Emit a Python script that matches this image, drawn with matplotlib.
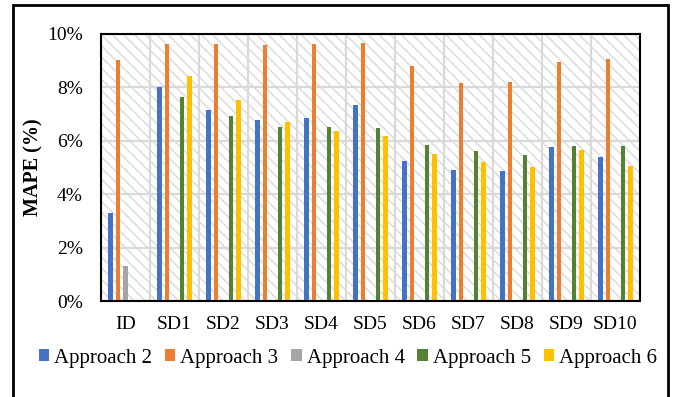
import matplotlib
matplotlib.use("Agg")
import matplotlib.pyplot as plt
import numpy as np
from matplotlib.patches import Rectangle
from matplotlib.ticker import FuncFormatter, MultipleLocator

categories = ["ID", "SD1", "SD2", "SD3", "SD4", "SD5", "SD6", "SD7", "SD8", "SD9", "SD10"]
approach2 = [3.28, 8.00, 7.15, 6.79, 6.87, 7.34, 5.25, 4.92, 4.87, 5.77, 5.38]
approach3 = [9.03, 9.64, 9.61, 9.60, 9.64, 9.65, 8.80, 8.15, 8.19, 8.95, 9.06]
approach4 = [1.32, 0, 0, 0, 0, 0, 0, 0, 0, 0, 0]
approach5 = [0, 7.65, 6.93, 6.53, 6.50, 6.48, 5.85, 5.62, 5.46, 5.80, 5.80]
approach6 = [0, 8.44, 7.52, 6.69, 6.36, 6.17, 5.49, 5.22, 5.02, 5.66, 5.07]
series_names = ["Approach 2", "Approach 3", "Approach 4", "Approach 5", "Approach 6"]
colors = ["#4472C4", "#ED7D31", "#A5A5A5", "#548235", "#FFC000"]

plt.rcParams['font.family'] = ['Liberation Serif', 'DejaVu Serif']
plt.rcParams['hatch.linewidth'] = 1.0
plt.rcParams['hatch.color'] = '#d9d9d9'

fig = plt.figure(figsize=(6.74, 3.97), dpi=100)
# outer frame
fig.patches.append(Rectangle((13/674, -0.05), (668-13)/674, 1.05 - 5/397,
                             transform=fig.transFigure, fill=False,
                             edgecolor='black', linewidth=2.0))

ax = fig.add_axes([101/674, (397-301)/397, (640-101)/674, (301-34)/397])
n = len(categories)
x = np.arange(n)
ax.set_xlim(-0.5, n - 0.5)
ax.set_ylim(0, 10)

# hatched background
ax.add_patch(Rectangle((0, 0), 1, 1, transform=ax.transAxes, facecolor='white',
                       edgecolor='#d9d9d9', hatch='\\\\\\', linewidth=0, zorder=0))

series = [approach2, approach3, approach4, approach5, approach6]
w = 0.10
step = 0.153
for i, (vals, name, c) in enumerate(zip(series, series_names, colors)):
    ax.bar(x + (i - 2) * step, vals, width=w, color=c, label=name, zorder=3)

ax.yaxis.set_major_locator(MultipleLocator(2))
ax.yaxis.set_major_formatter(FuncFormatter(lambda v, p: f"{int(round(v))}%"))
ax.set_xticks(x)
ax.set_xticklabels(categories)
ax.set_xticks(np.arange(n + 1) - 0.5, minor=True)
ax.grid(axis='y', which='major', color='#d9d9d9', linewidth=1.6, zorder=1)
ax.grid(axis='x', which='minor', color='#d9d9d9', linewidth=1.6, zorder=1)
ax.set_axisbelow(True)
ax.tick_params(axis='both', which='both', length=0, labelsize=14)
ax.tick_params(axis='y', pad=13)
ax.tick_params(axis='x', pad=11)
for s in ax.spines.values():
    s.set_color('black')
    s.set_linewidth(1.5)
    s.set_zorder(5)

ax.set_ylabel("MAPE (%)", fontsize=14.5, fontweight='bold')
ax.yaxis.set_label_coords((43 - 101) / 539, 0.5)

leg = fig.legend(loc='center', bbox_to_anchor=(348/674, (397-358)/397), ncol=5,
                 frameon=False, fontsize=15, handlelength=0.5, handleheight=0.5,
                 handletextpad=0.25, columnspacing=0.6, borderaxespad=0)

fig.savefig("out.png", dpi=100)
